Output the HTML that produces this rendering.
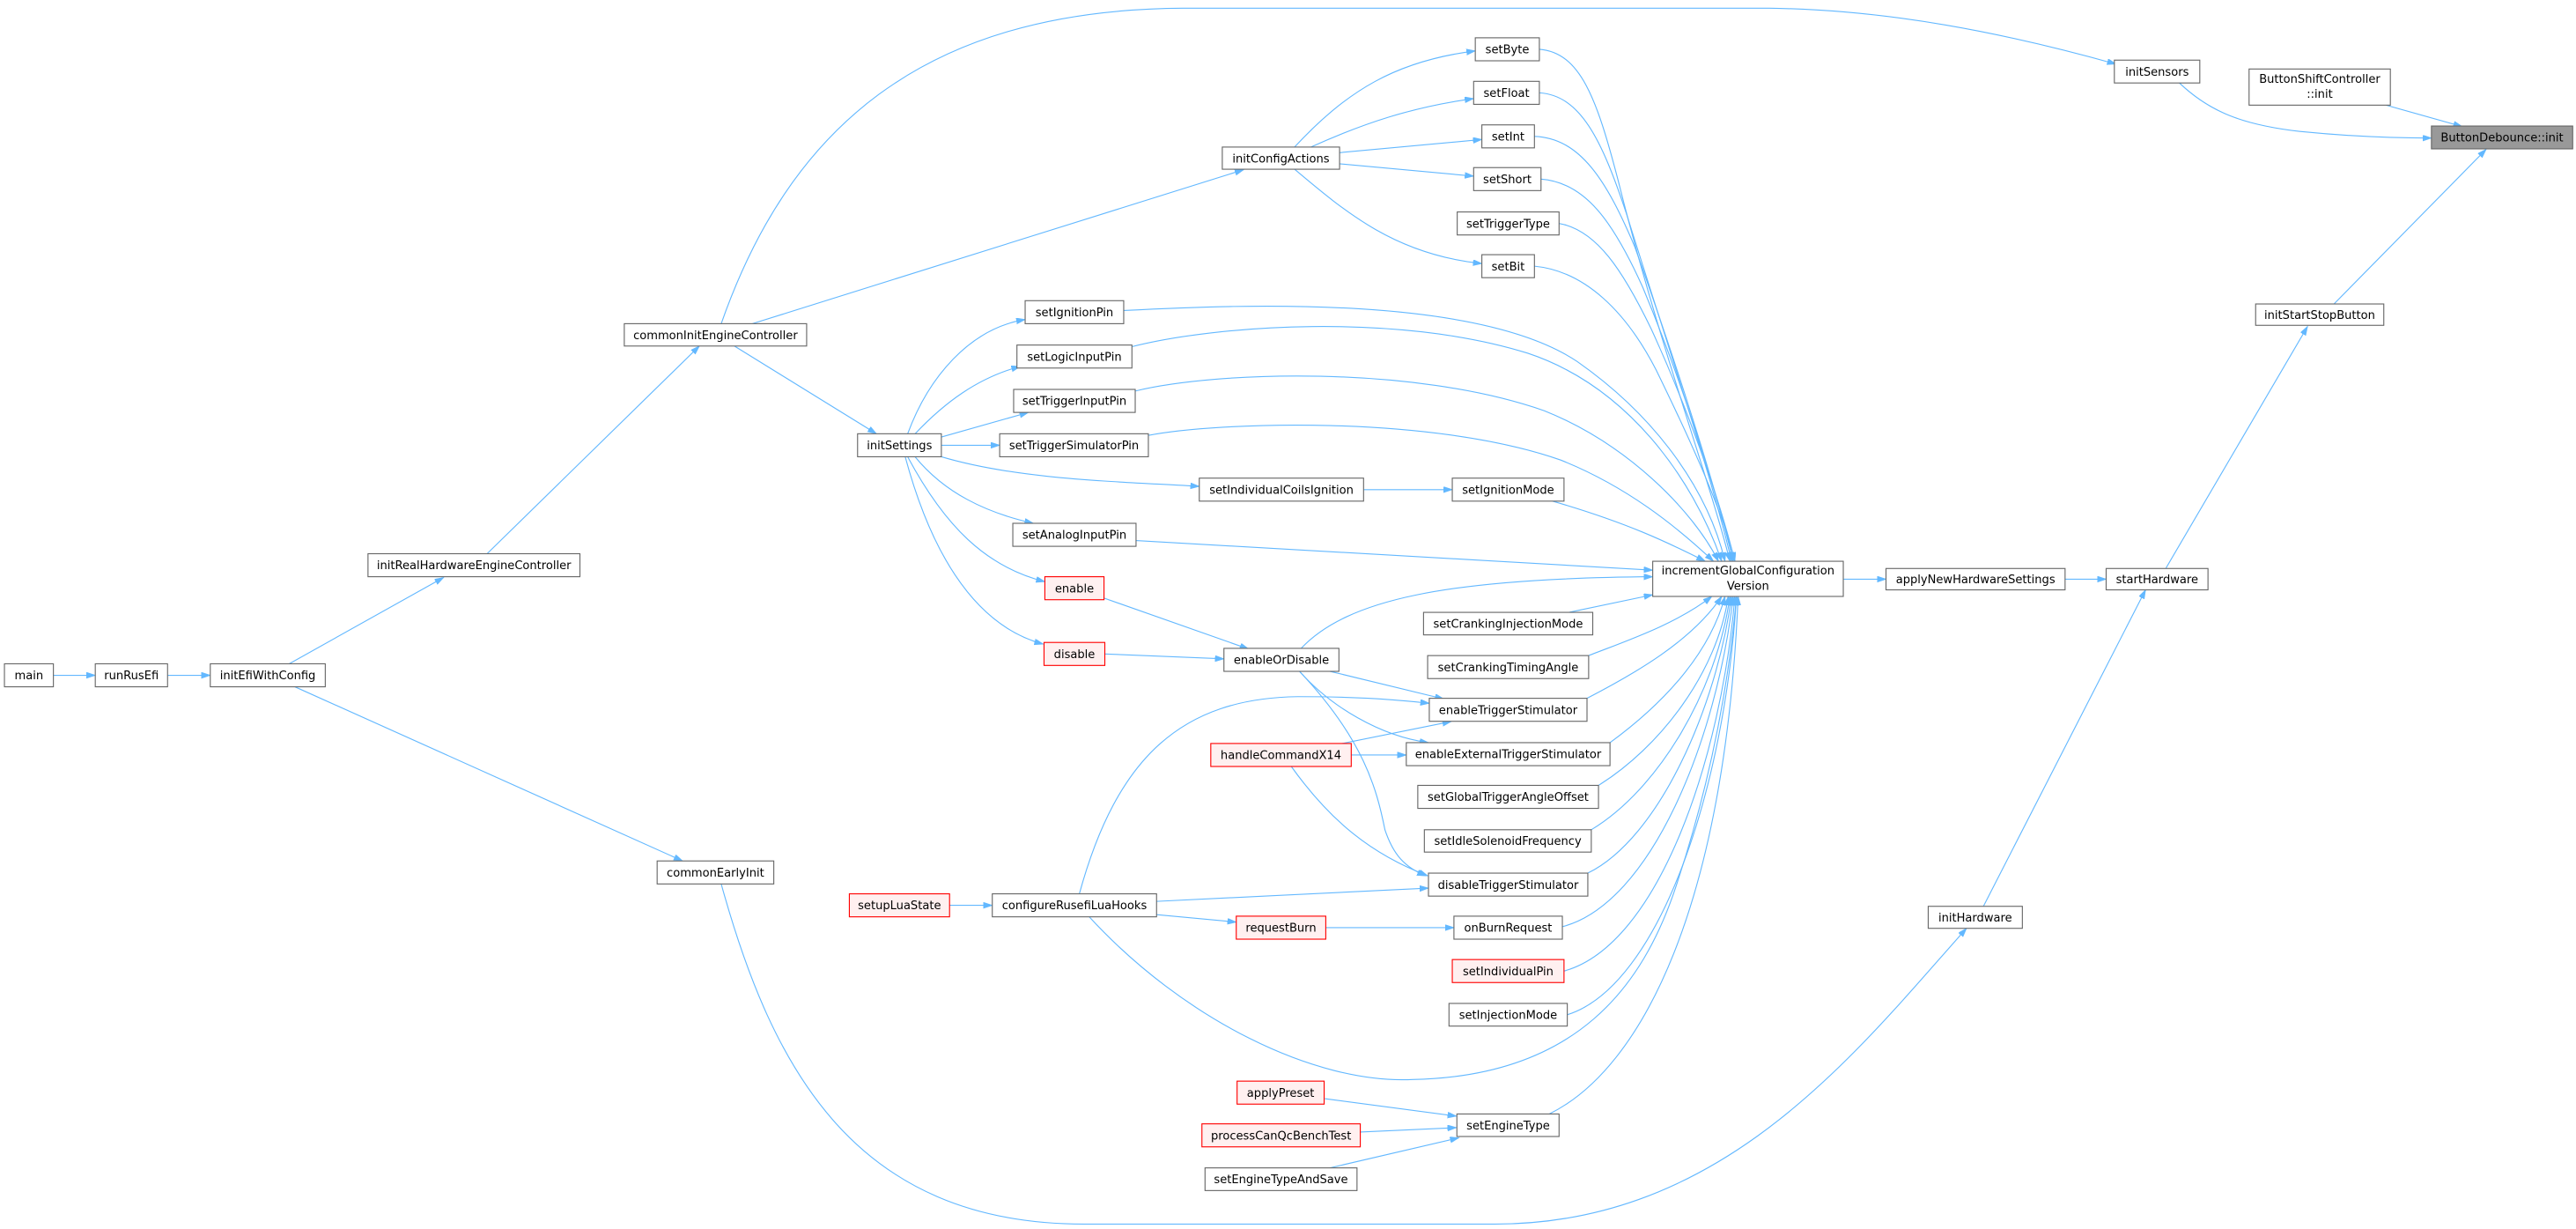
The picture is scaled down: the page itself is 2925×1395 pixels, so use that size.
<!DOCTYPE html>
<html><head><meta charset="utf-8"><style>
html,body{margin:0;padding:0;background:#fff;}
svg{display:block;}
text{font-family:"DejaVu Sans","Liberation Sans",sans-serif;font-size:7px;fill:#000;text-anchor:middle;}
.n{fill:#fff;stroke:#666;stroke-width:0.6;}
.r{fill:#fff0f0;stroke:#ff0000;stroke-width:0.6;}
.h{fill:#999;stroke:#666;stroke-width:0.6;}
.e{fill:none;stroke:#63b8ff;stroke-width:0.6;marker-end:url(#a);}
</style></head><body>
<svg width="2925" height="1395" viewBox="0 0 1568 748" preserveAspectRatio="none" xmlns="http://www.w3.org/2000/svg">
<defs><marker id="a" markerWidth="7" markerHeight="5" refX="5.4" refY="1.8" orient="auto" markerUnits="userSpaceOnUse"><path d="M0,0 L5.4,1.8 L0,3.6z" fill="#63b8ff" stroke="#63b8ff" stroke-width="0.4"/></marker></defs>

<!-- edges -->
<path class="e" d="M32.5,411 L58,411"/>
<path class="e" d="M102,411 L128,411"/>
<path class="e" d="M176,404 L270,351.5"/>
<path class="e" d="M179.5,418 L415.5,524"/>
<path class="e" d="M296.5,337 L425.7,210.6"/>
<path class="e" d="M447,210.6 L533.5,264"/>
<path class="e" d="M458,197 L757,103.3"/>
<path class="e" d="M439,197 C480,80 560,6 720,5 L1077,5 C1150,6 1220,20 1288,39"/>
<path class="e" d="M439,538 C470,650 520,745 660,745 L910,745 C1050,745 1130,640 1197,565"/>
<path class="e" d="M788,89.5 C820,55 850,37 898,31"/>
<path class="e" d="M798,89.5 C830,75 860,65 897,60"/>
<path class="e" d="M815.4,92.9 L902,84.9"/>
<path class="e" d="M815.4,99.7 L897,107.2"/>
<path class="e" d="M788,103 C820,130 850,155 902,160.4"/>
<path class="e" d="M552.5,264 C565,230 590,200 624,194.5"/>
<path class="e" d="M557,264 C575,245 595,230 621,223"/>
<path class="e" d="M573,266 L626,251"/>
<path class="e" d="M573,271 L608.5,271"/>
<path class="e" d="M573,278 C620,292 680,293 730,296"/>
<path class="e" d="M830,298 L884,298"/>
<path class="e" d="M557,278 C575,300 600,312 629,318.5"/>
<path class="e" d="M552.5,278 C575,320 600,345 636,354"/>
<path class="e" d="M551,278 C565,330 590,380 635,392"/>
<path class="e" d="M672,364 L760,395"/>
<path class="e" d="M672.5,398 L745,401"/>
<path class="e" d="M792,394.6 C820,365 880,352 1006,351"/>
<path class="e" d="M809.6,408.6 L878.8,425.4"/>
<path class="e" d="M791,408.6 C810,430 840,448 869.5,452"/>
<path class="e" d="M791,408.6 C830,450 838,480 843,505 C848,520 855,528 868,533"/>
<path class="e" d="M815.6,452.8 L883.4,439.1"/>
<path class="e" d="M822.5,459.5 L856,459.5"/>
<path class="e" d="M786,466.5 C810,500 835,520 869,533"/>
<path class="e" d="M657,544 C680,460 720,425 790,424 C830,424 850,426 870,428"/>
<path class="e" d="M704,548.6 L869.5,540.5"/>
<path class="e" d="M704,556.7 L752.5,561.2"/>
<path class="e" d="M578,551 L604,551"/>
<path class="e" d="M663,558 C720,620 800,660 860,657 C960,655 1000,600 1020,540 C1040,480 1052,420 1057,363"/>
<path class="e" d="M807,564.6 L885,564.6"/>
<path class="e" d="M806.4,668.7 L886.5,679.3"/>
<path class="e" d="M828,689 L886.5,686.3"/>
<path class="e" d="M809.5,710.8 L888,692.5"/>
<path class="e" d="M1122,352.5 L1148,352.5"/>
<path class="e" d="M1257,352.5 L1282,352.5"/>
<path class="e" d="M1318.4,345.8 L1404.6,198.7"/>
<path class="e" d="M1207.3,551.6 L1306,359"/>
<path class="e" d="M1420.7,185 L1513.3,90.9"/>
<path class="e" d="M1326.6,50.5 C1345,68 1365,76 1400,80 C1430,83 1455,84 1480,84"/>
<path class="e" d="M1452.4,64 L1498.7,77"/>
<!-- into incrementGlobal -->
<path class="e" d="M937,30 C962,32 972,60 985,110 C1010,210 1040,290 1053,341.6"/>
<path class="e" d="M937,56.5 C962,58 975,85 990,130 C1015,210 1042,290 1054,341.6"/>
<path class="e" d="M934,83 C962,84 978,110 995,150 C1020,220 1044,295 1055,341.6"/>
<path class="e" d="M938,109 C965,111 982,135 1000,175 C1025,235 1045,300 1055,341.6"/>
<path class="e" d="M949,136 C972,140 988,165 1005,200 C1028,250 1047,305 1056,341.6"/>
<path class="e" d="M934,162 C965,165 990,190 1008,225 C1030,270 1048,310 1056,341.6"/>
<path class="e" d="M684,189 C760,185 900,180 960,220 C1010,255 1040,300 1050,341.6"/>
<path class="e" d="M689,211 C740,198 850,190 930,215 C990,235 1030,290 1048,341.6"/>
<path class="e" d="M691,238 C740,226 860,222 940,250 C990,270 1030,310 1046,341.6"/>
<path class="e" d="M699,265 C740,257 870,252 950,280 C990,296 1020,320 1043,341.6"/>
<path class="e" d="M945,305 C990,318 1015,330 1038,341.6"/>
<path class="e" d="M691.5,329 L1006,347"/>
<path class="e" d="M955,372.7 L1006,362"/>
<path class="e" d="M967,399 C990,390 1020,380 1042,363"/>
<path class="e" d="M966,425 C995,410 1030,390 1048,363"/>
<path class="e" d="M980,452 C1010,430 1040,400 1050,363"/>
<path class="e" d="M973,478 C1010,455 1045,410 1052,363"/>
<path class="e" d="M968.6,505 C1010,480 1045,420 1053,363"/>
<path class="e" d="M966.5,531.4 C1010,510 1045,430 1054,363"/>
<path class="e" d="M951,564 C1005,550 1045,450 1055,363"/>
<path class="e" d="M952,591 C1010,575 1048,460 1056,363"/>
<path class="e" d="M954,617.6 C1010,600 1050,480 1057,363"/>
<path class="e" d="M943,678 C1000,650 1050,550 1058,363"/>

<!-- nodes -->
<rect class="n" x="2.7" y="404" width="29.8" height="14"/><text x="17.6" y="413.5">main</text>
<rect class="n" x="58" y="404" width="44" height="14"/><text x="80" y="413.5">runRusEfi</text>
<rect class="n" x="128" y="404" width="70" height="14"/><text x="163" y="413.5">initEfiWithConfig</text>
<rect class="n" x="224" y="337" width="129" height="14"/><text x="288.5" y="346.5">initRealHardwareEngineController</text>
<rect class="n" x="380" y="197" width="111" height="13.6"/><text x="435.5" y="406.5" transform="translate(0,-200)">commonInitEngineController</text>
<rect class="n" x="522" y="264" width="51" height="14"/><text x="547.5" y="273.5">initSettings</text>
<rect class="n" x="400" y="524" width="71" height="14"/><text x="435.5" y="533.5">commonEarlyInit</text>
<rect class="r" x="517" y="544" width="61" height="14"/><text x="547.5" y="553.5">setupLuaState</text>
<rect class="n" x="604" y="544" width="100" height="14"/><text x="654" y="553.5">configureRusefiLuaHooks</text>
<rect class="n" x="744" y="89.5" width="71.4" height="13.5"/><text x="779.7" y="98.8">initConfigActions</text>
<rect class="n" x="898" y="23" width="39" height="14"/><text x="917.5" y="32.5">setByte</text>
<rect class="n" x="897" y="49.5" width="40" height="14"/><text x="917" y="59">setFloat</text>
<rect class="n" x="902" y="76" width="32" height="14"/><text x="918" y="85.5">setInt</text>
<rect class="n" x="897" y="102" width="41" height="14"/><text x="917.5" y="111.5">setShort</text>
<rect class="n" x="887" y="129" width="62" height="14"/><text x="918" y="138.5">setTriggerType</text>
<rect class="n" x="902" y="155" width="32" height="14"/><text x="918" y="164.5">setBit</text>
<rect class="n" x="624" y="183" width="60" height="14"/><text x="654" y="192.5">setIgnitionPin</text>
<rect class="n" x="619" y="210" width="70" height="14"/><text x="654" y="219.5">setLogicInputPin</text>
<rect class="n" x="617" y="237" width="74" height="14"/><text x="654" y="246.5">setTriggerInputPin</text>
<rect class="n" x="608.5" y="264" width="90.5" height="14"/><text x="653.75" y="273.5">setTriggerSimulatorPin</text>
<rect class="n" x="730" y="291" width="100" height="14"/><text x="780" y="300.5">setIndividualCoilsIgnition</text>
<rect class="n" x="884" y="291" width="68" height="14"/><text x="918" y="300.5">setIgnitionMode</text>
<rect class="n" x="616.5" y="318.5" width="75" height="14"/><text x="654" y="328">setAnalogInputPin</text>
<rect class="r" x="636" y="351" width="36" height="14"/><text x="654" y="360.5">enable</text>
<rect class="r" x="635.5" y="391" width="37" height="14"/><text x="654" y="400.5">disable</text>
<rect class="n" x="745" y="394.6" width="70" height="14"/><text x="780" y="404.1">enableOrDisable</text>
<rect class="n" x="866.5" y="372.7" width="103" height="13.7"/><text x="918" y="382">setCrankingInjectionMode</text>
<rect class="n" x="869" y="399" width="98" height="14"/><text x="918" y="408.5">setCrankingTimingAngle</text>
<rect class="n" x="870" y="425" width="96" height="14"/><text x="918" y="434.5">enableTriggerStimulator</text>
<rect class="n" x="856" y="452" width="124" height="14"/><text x="918" y="461.5">enableExternalTriggerStimulator</text>
<rect class="r" x="737" y="452.5" width="85.5" height="14"/><text x="779.7" y="462">handleCommandX14</text>
<rect class="n" x="863" y="478" width="110" height="14"/><text x="918" y="487.5">setGlobalTriggerAngleOffset</text>
<rect class="n" x="867" y="505" width="101.6" height="13.6"/><text x="917.8" y="514.3">setIdleSolenoidFrequency</text>
<rect class="n" x="869.5" y="531.4" width="97" height="14"/><text x="918" y="540.9">disableTriggerStimulator</text>
<rect class="r" x="752.5" y="557.6" width="54.5" height="14"/><text x="779.7" y="567.1">requestBurn</text>
<rect class="n" x="885" y="557.6" width="66" height="14"/><text x="918" y="567.1">onBurnRequest</text>
<rect class="r" x="884" y="584" width="68" height="14"/><text x="918" y="593.5">setIndividualPin</text>
<rect class="n" x="882" y="610.7" width="72" height="13.8"/><text x="918" y="620.1">setInjectionMode</text>
<rect class="r" x="753" y="658" width="53" height="14"/><text x="779.5" y="667.5">applyPreset</text>
<rect class="n" x="886.8" y="678" width="62.2" height="13.7"/><text x="918" y="687.3">setEngineType</text>
<rect class="r" x="731.6" y="684" width="96.4" height="14"/><text x="779.8" y="693.5">processCanQcBenchTest</text>
<rect class="n" x="733.5" y="710.8" width="92.5" height="13.8"/><text x="779.7" y="720.2">setEngineTypeAndSave</text>
<rect class="n" x="1006" y="341.6" width="116" height="21.4"/><text x="1064" y="349.6">incrementGlobalConfiguration</text><text x="1064" y="359">Version</text>
<rect class="n" x="1148" y="346" width="109" height="13"/><text x="1202.5" y="355">applyNewHardwareSettings</text>
<rect class="n" x="1282" y="346" width="62" height="13"/><text x="1313" y="355">startHardware</text>
<rect class="n" x="1173.7" y="551.6" width="57.3" height="13.4"/><text x="1202.3" y="560.8">initHardware</text>
<rect class="n" x="1373" y="185" width="78" height="13"/><text x="1412" y="194">initStartStopButton</text>
<rect class="n" x="1287" y="36.6" width="52" height="13.9"/><text x="1313" y="46">initSensors</text>
<rect class="n" x="1369" y="42" width="86" height="22"/><text x="1412" y="50.5">ButtonShiftController</text><text x="1412" y="59.5">::init</text>
<rect class="h" x="1480" y="76.7" width="86" height="13.9"/><text x="1523" y="86.2">ButtonDebounce::init</text>
</svg>
</body></html>
